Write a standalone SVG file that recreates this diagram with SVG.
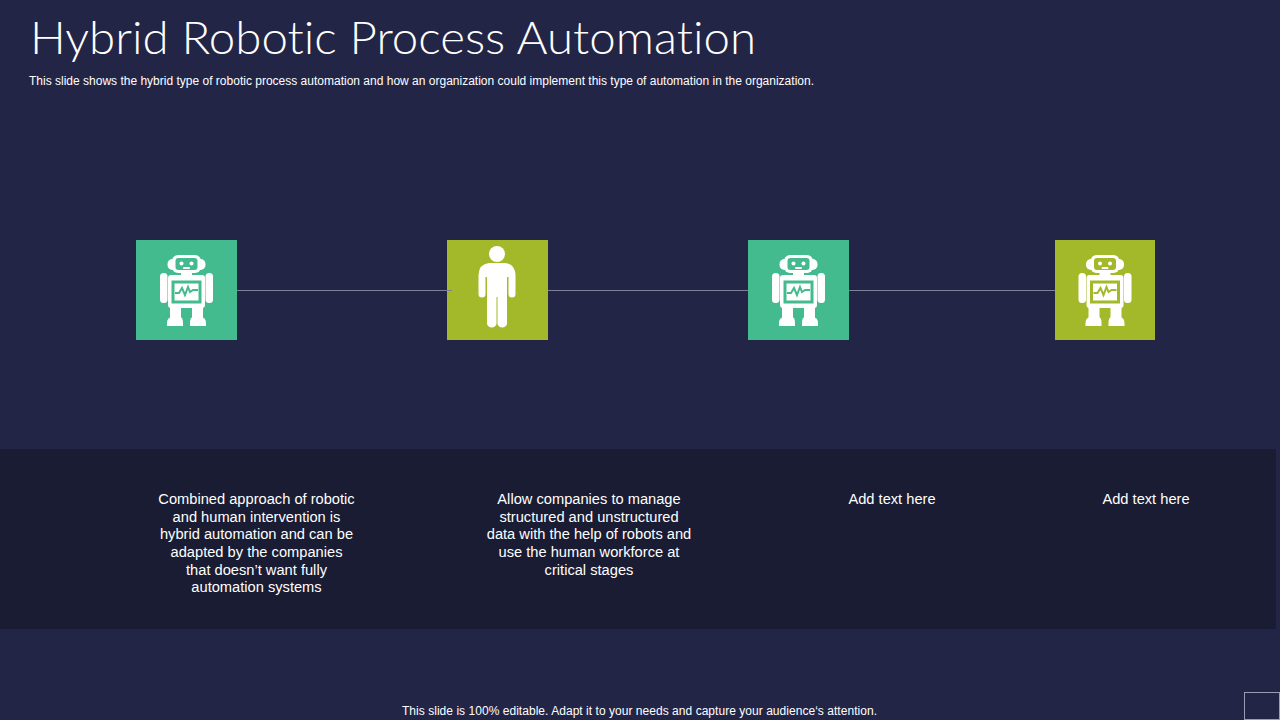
<svg xmlns="http://www.w3.org/2000/svg" width="1280" height="720" viewBox="0 0 1280 720">
<style>
.t{font-family:"Liberation Sans",Arial,sans-serif;fill:#fff}
.b{font-size:14.670px;text-anchor:middle}
.c{stroke:#7f8096;stroke-width:1;fill:none}
.w{fill:#fff}
</style>
<defs>
<g id="robot">
<rect class="w" x="167.500" y="259" width="38" height="11" rx="5"/>
<rect class="w" x="172" y="255" width="29" height="18" rx="6"/>
<rect x="175.500" y="258" width="22" height="12" rx="3" fill="var(--bg)"/>
<circle class="w" cx="181.500" cy="263.500" r="2"/><circle class="w" cx="191.500" cy="263.500" r="2"/>
<rect class="w" x="183" y="267" width="7" height="2" rx="1"/>
<rect class="w" x="181" y="272" width="11" height="4"/>
<rect class="w" x="168" y="275" width="37" height="33" rx="3"/>
<rect class="w" x="160" y="273" width="7.500" height="30" rx="3.500"/>
<rect class="w" x="205.500" y="273" width="7.500" height="30" rx="3.500"/>
<rect x="173" y="282" width="27" height="20" fill="#fff" stroke="var(--bg)" stroke-width="3"/>
<path d="M175 293h4l3-5 3 7 3-8 2 5 3-2h5" fill="none" stroke="var(--bg)" stroke-width="2"/>
<rect class="w" x="170" y="305" width="11" height="15"/>
<rect class="w" x="192" y="305" width="11" height="15"/>
<path class="w" d="M167 326v-3q0-6 6-6h7q3 0 3 6v3zM190 326v-3q0-6 3-6h7q6 0 6 6v3z"/>
</g>
</defs>
<rect width="1280" height="720" fill="#232546"/>
<rect id="band" x="0" y="449" width="1276" height="180" fill="#1a1c33"/>
<rect x="1244.500" y="692.500" width="35" height="27" fill="none" stroke="#9a9bb5"/>
<g id="node1"><rect x="136" y="240" width="101" height="100" fill="#43bb8f"/><use href="#robot" style="--bg:#43bb8f"/></g>
<g id="node2"><rect x="447" y="240" width="101" height="100" fill="#a3b929"/>
<circle class="w" cx="497" cy="254" r="8"/>
<path class="w" d="M489 263h16q10 1 10.500 12v19a3.500 3.500 0 0 1-7 0v-17h-1.500v47a5 5 0 0 1-9.500 0v-27h-1v27a5 5 0 0 1-9.500 0v-47h-1.500v17a3.500 3.500 0 0 1-7 0v-19q.500-11 10.500-12z"/></g>
<g id="node3"><rect x="748" y="240" width="101" height="100" fill="#43bb8f"/><use href="#robot" x="612" style="--bg:#43bb8f"/></g>
<g id="node4"><rect x="1055" y="240" width="100" height="100" fill="#a3b929"/><use href="#robot" x="918.500" style="--bg:#a3b929"/></g>
<g id="connectors">
<line class="c" x1="237" y1="290.500" x2="452" y2="290.500"/>
<line class="c" x1="548" y1="290.500" x2="748" y2="290.500"/>
<line class="c" x1="849" y1="290.500" x2="1055" y2="290.500"/>
</g>
<text class="t" x="30" y="54" font-size="46" textLength="726" lengthAdjust="spacingAndGlyphs" style="font-family:Lato,'Liberation Sans',sans-serif;font-weight:300;font-variant-ligatures:none">Hybrid Robotic Process Automation</text>
<text class="t" x="29" y="85" font-size="12" textLength="785">This slide shows the hybrid type  of robotic process automation and how an organization could implement this type of automation in the organization.</text>
<g id="text1" class="t b">
<text x="256.500" y="504">Combined approach of robotic</text>
<text x="256.500" y="522">and human intervention is</text>
<text x="256.500" y="539">hybrid automation and can be</text>
<text x="256.500" y="557">adapted by the companies</text>
<text x="256.500" y="575">that doesn’t want fully</text>
<text x="256.500" y="592">automation systems</text>
</g>
<g id="text2" class="t b">
<text x="589" y="504">Allow companies to manage</text>
<text x="589" y="522">structured and unstructured</text>
<text x="589" y="539">data with the help of robots and</text>
<text x="589" y="557">use the human workforce at</text>
<text x="589" y="575">critical stages</text>
</g>
<text class="t b" x="892" y="504">Add text here</text>
<text class="t b" x="1146" y="504">Add text here</text>
<text class="t" x="402" y="715" font-size="12" textLength="475">This slide is 100% editable. Adapt it to your needs and capture your audience‘s attention.</text>
</svg>
